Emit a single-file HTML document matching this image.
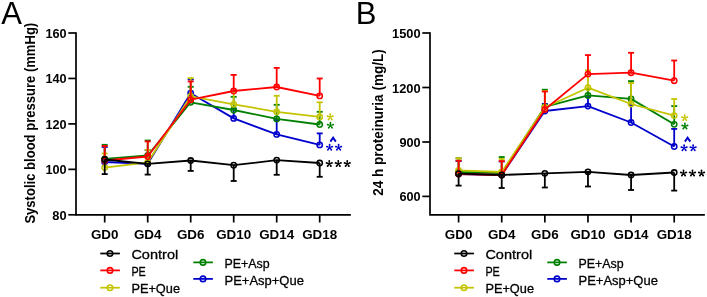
<!DOCTYPE html>
<html><head><meta charset="utf-8"><style>
html,body{margin:0;padding:0;background:#fff;}
body{width:707px;height:297px;overflow:hidden;}
svg{display:block;will-change:transform;}
text{font-family:"Liberation Sans",sans-serif;}
.tk{font-size:12.6px;font-weight:bold;fill:#000;}
.yt{font-size:13.8px;font-weight:bold;fill:#000;}
.lg{font-size:13.2px;fill:#000;stroke:#000;stroke-width:0.3px;}
.let{font-size:31px;fill:#000;}
.st{font-size:16px;font-weight:bold;}
.ca{font-size:13px;font-weight:bold;}
</style></head><body>
<svg width="707" height="297" viewBox="0 0 707 297">
<path d="M76.00,33 L76.00,214.8 L350.00,214.8" fill="none" stroke="#000" stroke-width="1.7" stroke-linecap="square"/>
<line x1="68.30" y1="33.00" x2="76.00" y2="33.00" stroke="#000" stroke-width="1.7"/>
<text x="66.60" y="38.00" text-anchor="end" class="tk" textLength="21.2" lengthAdjust="spacingAndGlyphs">160</text>
<line x1="68.30" y1="78.45" x2="76.00" y2="78.45" stroke="#000" stroke-width="1.7"/>
<text x="66.60" y="83.45" text-anchor="end" class="tk" textLength="21.2" lengthAdjust="spacingAndGlyphs">140</text>
<line x1="68.30" y1="123.90" x2="76.00" y2="123.90" stroke="#000" stroke-width="1.7"/>
<text x="66.60" y="128.90" text-anchor="end" class="tk" textLength="21.2" lengthAdjust="spacingAndGlyphs">120</text>
<line x1="68.30" y1="169.35" x2="76.00" y2="169.35" stroke="#000" stroke-width="1.7"/>
<text x="66.60" y="174.35" text-anchor="end" class="tk" textLength="21.2" lengthAdjust="spacingAndGlyphs">100</text>
<line x1="68.30" y1="214.80" x2="76.00" y2="214.80" stroke="#000" stroke-width="1.7"/>
<text x="66.60" y="219.80" text-anchor="end" class="tk" textLength="14.3" lengthAdjust="spacingAndGlyphs">80</text>
<line x1="104.70" y1="214.8" x2="104.70" y2="222.5" stroke="#000" stroke-width="1.7"/>
<text x="104.70" y="239.2" text-anchor="middle" class="tk" textLength="27.6" lengthAdjust="spacingAndGlyphs">GD0</text>
<line x1="147.70" y1="214.8" x2="147.70" y2="222.5" stroke="#000" stroke-width="1.7"/>
<text x="147.70" y="239.2" text-anchor="middle" class="tk" textLength="27.6" lengthAdjust="spacingAndGlyphs">GD4</text>
<line x1="190.70" y1="214.8" x2="190.70" y2="222.5" stroke="#000" stroke-width="1.7"/>
<text x="190.70" y="239.2" text-anchor="middle" class="tk" textLength="27.6" lengthAdjust="spacingAndGlyphs">GD6</text>
<line x1="233.70" y1="214.8" x2="233.70" y2="222.5" stroke="#000" stroke-width="1.7"/>
<text x="233.70" y="239.2" text-anchor="middle" class="tk" textLength="35.0" lengthAdjust="spacingAndGlyphs">GD10</text>
<line x1="276.70" y1="214.8" x2="276.70" y2="222.5" stroke="#000" stroke-width="1.7"/>
<text x="276.70" y="239.2" text-anchor="middle" class="tk" textLength="35.0" lengthAdjust="spacingAndGlyphs">GD14</text>
<line x1="319.70" y1="214.8" x2="319.70" y2="222.5" stroke="#000" stroke-width="1.7"/>
<text x="319.70" y="239.2" text-anchor="middle" class="tk" textLength="35.0" lengthAdjust="spacingAndGlyphs">GD18</text>
<text transform="translate(35.00,123.20) rotate(-90)" x="0" y="0" text-anchor="middle" class="yt" textLength="200.8" lengthAdjust="spacingAndGlyphs">Systolic blood pressure (mmHg)</text>
<text x="1.20" y="23.5" class="let">A</text>
<line x1="104.70" y1="162.00" x2="104.70" y2="147.00" stroke="#0000CC" stroke-width="1.8"/>
<line x1="101.70" y1="147.00" x2="107.70" y2="147.00" stroke="#0000CC" stroke-width="1.8"/>
<line x1="147.70" y1="163.80" x2="147.70" y2="150.00" stroke="#0000CC" stroke-width="1.8"/>
<line x1="144.70" y1="150.00" x2="150.70" y2="150.00" stroke="#0000CC" stroke-width="1.8"/>
<line x1="190.70" y1="93.20" x2="190.70" y2="79.50" stroke="#0000CC" stroke-width="1.8"/>
<line x1="187.70" y1="79.50" x2="193.70" y2="79.50" stroke="#0000CC" stroke-width="1.8"/>
<line x1="233.70" y1="118.40" x2="233.70" y2="109.00" stroke="#0000CC" stroke-width="1.8"/>
<line x1="230.70" y1="109.00" x2="236.70" y2="109.00" stroke="#0000CC" stroke-width="1.8"/>
<line x1="276.70" y1="134.40" x2="276.70" y2="120.00" stroke="#0000CC" stroke-width="1.8"/>
<line x1="273.70" y1="120.00" x2="279.70" y2="120.00" stroke="#0000CC" stroke-width="1.8"/>
<line x1="319.70" y1="144.90" x2="319.70" y2="133.40" stroke="#0000CC" stroke-width="1.8"/>
<line x1="316.70" y1="133.40" x2="322.70" y2="133.40" stroke="#0000CC" stroke-width="1.8"/>
<path d="M104.70,162.00 L147.70,163.80 L190.70,93.20 L233.70,118.40 L276.70,134.40 L319.70,144.90" fill="none" stroke="#0000CC" stroke-width="1.8" stroke-linejoin="round"/>
<circle cx="104.70" cy="162.00" r="2.65" fill="none" stroke="#0000CC" stroke-width="1.55"/>
<circle cx="147.70" cy="163.80" r="2.65" fill="none" stroke="#0000CC" stroke-width="1.55"/>
<circle cx="190.70" cy="93.20" r="2.65" fill="none" stroke="#0000CC" stroke-width="1.55"/>
<circle cx="233.70" cy="118.40" r="2.65" fill="none" stroke="#0000CC" stroke-width="1.55"/>
<circle cx="276.70" cy="134.40" r="2.65" fill="none" stroke="#0000CC" stroke-width="1.55"/>
<circle cx="319.70" cy="144.90" r="2.65" fill="none" stroke="#0000CC" stroke-width="1.55"/>
<line x1="104.70" y1="158.80" x2="104.70" y2="144.80" stroke="#008000" stroke-width="1.8"/>
<line x1="101.70" y1="144.80" x2="107.70" y2="144.80" stroke="#008000" stroke-width="1.8"/>
<line x1="147.70" y1="155.50" x2="147.70" y2="140.50" stroke="#008000" stroke-width="1.8"/>
<line x1="144.70" y1="140.50" x2="150.70" y2="140.50" stroke="#008000" stroke-width="1.8"/>
<line x1="190.70" y1="102.30" x2="190.70" y2="86.80" stroke="#008000" stroke-width="1.8"/>
<line x1="187.70" y1="86.80" x2="193.70" y2="86.80" stroke="#008000" stroke-width="1.8"/>
<line x1="233.70" y1="110.00" x2="233.70" y2="96.80" stroke="#008000" stroke-width="1.8"/>
<line x1="230.70" y1="96.80" x2="236.70" y2="96.80" stroke="#008000" stroke-width="1.8"/>
<line x1="276.70" y1="118.90" x2="276.70" y2="104.80" stroke="#008000" stroke-width="1.8"/>
<line x1="273.70" y1="104.80" x2="279.70" y2="104.80" stroke="#008000" stroke-width="1.8"/>
<line x1="319.70" y1="124.50" x2="319.70" y2="111.80" stroke="#008000" stroke-width="1.8"/>
<line x1="316.70" y1="111.80" x2="322.70" y2="111.80" stroke="#008000" stroke-width="1.8"/>
<path d="M104.70,158.80 L147.70,155.50 L190.70,102.30 L233.70,110.00 L276.70,118.90 L319.70,124.50" fill="none" stroke="#008000" stroke-width="1.8" stroke-linejoin="round"/>
<circle cx="104.70" cy="158.80" r="2.65" fill="none" stroke="#008000" stroke-width="1.55"/>
<circle cx="147.70" cy="155.50" r="2.65" fill="none" stroke="#008000" stroke-width="1.55"/>
<circle cx="190.70" cy="102.30" r="2.65" fill="none" stroke="#008000" stroke-width="1.55"/>
<circle cx="233.70" cy="110.00" r="2.65" fill="none" stroke="#008000" stroke-width="1.55"/>
<circle cx="276.70" cy="118.90" r="2.65" fill="none" stroke="#008000" stroke-width="1.55"/>
<circle cx="319.70" cy="124.50" r="2.65" fill="none" stroke="#008000" stroke-width="1.55"/>
<line x1="104.70" y1="167.60" x2="104.70" y2="153.50" stroke="#C4C400" stroke-width="1.8"/>
<line x1="101.70" y1="153.50" x2="107.70" y2="153.50" stroke="#C4C400" stroke-width="1.8"/>
<line x1="147.70" y1="162.30" x2="147.70" y2="149.90" stroke="#C4C400" stroke-width="1.8"/>
<line x1="144.70" y1="149.90" x2="150.70" y2="149.90" stroke="#C4C400" stroke-width="1.8"/>
<line x1="190.70" y1="96.30" x2="190.70" y2="78.10" stroke="#C4C400" stroke-width="1.8"/>
<line x1="187.70" y1="78.10" x2="193.70" y2="78.10" stroke="#C4C400" stroke-width="1.8"/>
<line x1="233.70" y1="104.30" x2="233.70" y2="91.50" stroke="#C4C400" stroke-width="1.8"/>
<line x1="230.70" y1="91.50" x2="236.70" y2="91.50" stroke="#C4C400" stroke-width="1.8"/>
<line x1="276.70" y1="111.80" x2="276.70" y2="95.80" stroke="#C4C400" stroke-width="1.8"/>
<line x1="273.70" y1="95.80" x2="279.70" y2="95.80" stroke="#C4C400" stroke-width="1.8"/>
<line x1="319.70" y1="116.90" x2="319.70" y2="102.30" stroke="#C4C400" stroke-width="1.8"/>
<line x1="316.70" y1="102.30" x2="322.70" y2="102.30" stroke="#C4C400" stroke-width="1.8"/>
<path d="M104.70,167.60 L147.70,162.30 L190.70,96.30 L233.70,104.30 L276.70,111.80 L319.70,116.90" fill="none" stroke="#C4C400" stroke-width="1.8" stroke-linejoin="round"/>
<circle cx="104.70" cy="167.60" r="2.65" fill="none" stroke="#C4C400" stroke-width="1.55"/>
<circle cx="147.70" cy="162.30" r="2.65" fill="none" stroke="#C4C400" stroke-width="1.55"/>
<circle cx="190.70" cy="96.30" r="2.65" fill="none" stroke="#C4C400" stroke-width="1.55"/>
<circle cx="233.70" cy="104.30" r="2.65" fill="none" stroke="#C4C400" stroke-width="1.55"/>
<circle cx="276.70" cy="111.80" r="2.65" fill="none" stroke="#C4C400" stroke-width="1.55"/>
<circle cx="319.70" cy="116.90" r="2.65" fill="none" stroke="#C4C400" stroke-width="1.55"/>
<line x1="104.70" y1="160.50" x2="104.70" y2="145.90" stroke="#FF0000" stroke-width="1.8"/>
<line x1="101.70" y1="145.90" x2="107.70" y2="145.90" stroke="#FF0000" stroke-width="1.8"/>
<line x1="147.70" y1="156.50" x2="147.70" y2="141.40" stroke="#FF0000" stroke-width="1.8"/>
<line x1="144.70" y1="141.40" x2="150.70" y2="141.40" stroke="#FF0000" stroke-width="1.8"/>
<line x1="190.70" y1="99.70" x2="190.70" y2="81.50" stroke="#FF0000" stroke-width="1.8"/>
<line x1="187.70" y1="81.50" x2="193.70" y2="81.50" stroke="#FF0000" stroke-width="1.8"/>
<line x1="233.70" y1="91.00" x2="233.70" y2="74.90" stroke="#FF0000" stroke-width="1.8"/>
<line x1="230.70" y1="74.90" x2="236.70" y2="74.90" stroke="#FF0000" stroke-width="1.8"/>
<line x1="276.70" y1="87.00" x2="276.70" y2="67.90" stroke="#FF0000" stroke-width="1.8"/>
<line x1="273.70" y1="67.90" x2="279.70" y2="67.90" stroke="#FF0000" stroke-width="1.8"/>
<line x1="319.70" y1="95.90" x2="319.70" y2="78.50" stroke="#FF0000" stroke-width="1.8"/>
<line x1="316.70" y1="78.50" x2="322.70" y2="78.50" stroke="#FF0000" stroke-width="1.8"/>
<path d="M104.70,160.50 L147.70,156.50 L190.70,99.70 L233.70,91.00 L276.70,87.00 L319.70,95.90" fill="none" stroke="#FF0000" stroke-width="1.8" stroke-linejoin="round"/>
<circle cx="104.70" cy="160.50" r="2.65" fill="none" stroke="#FF0000" stroke-width="1.55"/>
<circle cx="147.70" cy="156.50" r="2.65" fill="none" stroke="#FF0000" stroke-width="1.55"/>
<circle cx="190.70" cy="99.70" r="2.65" fill="none" stroke="#FF0000" stroke-width="1.55"/>
<circle cx="233.70" cy="91.00" r="2.65" fill="none" stroke="#FF0000" stroke-width="1.55"/>
<circle cx="276.70" cy="87.00" r="2.65" fill="none" stroke="#FF0000" stroke-width="1.55"/>
<circle cx="319.70" cy="95.90" r="2.65" fill="none" stroke="#FF0000" stroke-width="1.55"/>
<line x1="104.70" y1="159.50" x2="104.70" y2="174.10" stroke="#000000" stroke-width="1.8"/>
<line x1="101.70" y1="174.10" x2="107.70" y2="174.10" stroke="#000000" stroke-width="1.8"/>
<line x1="147.70" y1="163.80" x2="147.70" y2="174.60" stroke="#000000" stroke-width="1.8"/>
<line x1="144.70" y1="174.60" x2="150.70" y2="174.60" stroke="#000000" stroke-width="1.8"/>
<line x1="190.70" y1="160.50" x2="190.70" y2="170.90" stroke="#000000" stroke-width="1.8"/>
<line x1="187.70" y1="170.90" x2="193.70" y2="170.90" stroke="#000000" stroke-width="1.8"/>
<line x1="233.70" y1="165.20" x2="233.70" y2="181.00" stroke="#000000" stroke-width="1.8"/>
<line x1="230.70" y1="181.00" x2="236.70" y2="181.00" stroke="#000000" stroke-width="1.8"/>
<line x1="276.70" y1="160.10" x2="276.70" y2="174.80" stroke="#000000" stroke-width="1.8"/>
<line x1="273.70" y1="174.80" x2="279.70" y2="174.80" stroke="#000000" stroke-width="1.8"/>
<line x1="319.70" y1="163.00" x2="319.70" y2="176.80" stroke="#000000" stroke-width="1.8"/>
<line x1="316.70" y1="176.80" x2="322.70" y2="176.80" stroke="#000000" stroke-width="1.8"/>
<path d="M104.70,159.50 L147.70,163.80 L190.70,160.50 L233.70,165.20 L276.70,160.10 L319.70,163.00" fill="none" stroke="#000000" stroke-width="1.8" stroke-linejoin="round"/>
<circle cx="104.70" cy="159.50" r="2.65" fill="none" stroke="#000000" stroke-width="1.55"/>
<circle cx="147.70" cy="163.80" r="2.65" fill="none" stroke="#000000" stroke-width="1.55"/>
<circle cx="190.70" cy="160.50" r="2.65" fill="none" stroke="#000000" stroke-width="1.55"/>
<circle cx="233.70" cy="165.20" r="2.65" fill="none" stroke="#000000" stroke-width="1.55"/>
<circle cx="276.70" cy="160.10" r="2.65" fill="none" stroke="#000000" stroke-width="1.55"/>
<circle cx="319.70" cy="163.00" r="2.65" fill="none" stroke="#000000" stroke-width="1.55"/>
<path d="M330.58,117.10 L331.12,114.23 A0.92,0.92 0 0 0 329.28,114.23 L329.82,117.10 Z M330.32,117.46 L333.22,117.09 A0.92,0.92 0 0 0 332.65,115.34 L330.08,116.74 Z M329.89,117.32 L331.14,119.96 A0.92,0.92 0 0 0 332.63,118.88 L330.51,116.88 Z M329.89,116.88 L327.77,118.88 A0.92,0.92 0 0 0 329.26,119.96 L330.51,117.32 Z M330.32,116.74 L327.75,115.34 A0.92,0.92 0 0 0 327.18,117.09 L330.08,117.46 Z" fill="#C4C400"/>
<path d="M330.78,125.50 L331.32,122.63 A0.92,0.92 0 0 0 329.48,122.63 L330.02,125.50 Z M330.52,125.86 L333.42,125.49 A0.92,0.92 0 0 0 332.85,123.74 L330.28,125.14 Z M330.09,125.72 L331.34,128.36 A0.92,0.92 0 0 0 332.83,127.28 L330.71,125.28 Z M330.09,125.28 L327.97,127.28 A0.92,0.92 0 0 0 329.46,128.36 L330.71,125.72 Z M330.52,125.14 L327.95,123.74 A0.92,0.92 0 0 0 327.38,125.49 L330.28,125.86 Z" fill="#008000"/>
<path d="M330.40,141.60 L333.10,137.60 L335.80,141.60" stroke="#0000CC" stroke-width="1.9" fill="none" stroke-linejoin="miter"/>
<path d="M329.98,147.50 L330.52,144.63 A0.92,0.92 0 0 0 328.68,144.63 L329.22,147.50 Z M329.72,147.86 L332.62,147.49 A0.92,0.92 0 0 0 332.05,145.74 L329.48,147.14 Z M329.29,147.72 L330.54,150.36 A0.92,0.92 0 0 0 332.03,149.28 L329.91,147.28 Z M329.29,147.28 L327.17,149.28 A0.92,0.92 0 0 0 328.66,150.36 L329.91,147.72 Z M329.72,147.14 L327.15,145.74 A0.92,0.92 0 0 0 326.58,147.49 L329.48,147.86 Z" fill="#0000CC"/>
<path d="M338.98,147.50 L339.52,144.63 A0.92,0.92 0 0 0 337.68,144.63 L338.22,147.50 Z M338.72,147.86 L341.62,147.49 A0.92,0.92 0 0 0 341.05,145.74 L338.48,147.14 Z M338.29,147.72 L339.54,150.36 A0.92,0.92 0 0 0 341.03,149.28 L338.91,147.28 Z M338.29,147.28 L336.17,149.28 A0.92,0.92 0 0 0 337.66,150.36 L338.91,147.72 Z M338.72,147.14 L336.15,145.74 A0.92,0.92 0 0 0 335.58,147.49 L338.48,147.86 Z" fill="#0000CC"/>
<path d="M329.63,163.80 L330.17,160.93 A0.92,0.92 0 0 0 328.33,160.93 L328.87,163.80 Z M329.37,164.16 L332.27,163.79 A0.92,0.92 0 0 0 331.70,162.04 L329.13,163.44 Z M328.94,164.02 L330.19,166.66 A0.92,0.92 0 0 0 331.68,165.58 L329.56,163.58 Z M328.94,163.58 L326.82,165.58 A0.92,0.92 0 0 0 328.31,166.66 L329.56,164.02 Z M329.37,163.44 L326.80,162.04 A0.92,0.92 0 0 0 326.23,163.79 L329.13,164.16 Z" fill="#000"/>
<path d="M338.63,163.80 L339.17,160.93 A0.92,0.92 0 0 0 337.33,160.93 L337.87,163.80 Z M338.37,164.16 L341.27,163.79 A0.92,0.92 0 0 0 340.70,162.04 L338.13,163.44 Z M337.94,164.02 L339.19,166.66 A0.92,0.92 0 0 0 340.68,165.58 L338.56,163.58 Z M337.94,163.58 L335.82,165.58 A0.92,0.92 0 0 0 337.31,166.66 L338.56,164.02 Z M338.37,163.44 L335.80,162.04 A0.92,0.92 0 0 0 335.23,163.79 L338.13,164.16 Z" fill="#000"/>
<path d="M347.63,163.80 L348.17,160.93 A0.92,0.92 0 0 0 346.33,160.93 L346.87,163.80 Z M347.37,164.16 L350.27,163.79 A0.92,0.92 0 0 0 349.70,162.04 L347.13,163.44 Z M346.94,164.02 L348.19,166.66 A0.92,0.92 0 0 0 349.68,165.58 L347.56,163.58 Z M346.94,163.58 L344.82,165.58 A0.92,0.92 0 0 0 346.31,166.66 L347.56,164.02 Z M347.37,163.44 L344.80,162.04 A0.92,0.92 0 0 0 344.23,163.79 L347.13,164.16 Z" fill="#000"/>
<line x1="100.30" y1="253.50" x2="119.90" y2="253.50" stroke="#000000" stroke-width="1.75"/>
<circle cx="110.00" cy="253.50" r="2.75" fill="none" stroke="#000000" stroke-width="1.6"/>
<text x="131.40" y="259.10" class="lg" textLength="46.8" lengthAdjust="spacingAndGlyphs">Control</text>
<line x1="100.30" y1="270.40" x2="119.90" y2="270.40" stroke="#FF0000" stroke-width="1.75"/>
<circle cx="110.00" cy="270.40" r="2.75" fill="none" stroke="#FF0000" stroke-width="1.6"/>
<text x="131.40" y="276.00" class="lg" textLength="14.4" lengthAdjust="spacingAndGlyphs">PE</text>
<line x1="100.30" y1="287.70" x2="119.90" y2="287.70" stroke="#C4C400" stroke-width="1.75"/>
<circle cx="110.00" cy="287.70" r="2.75" fill="none" stroke="#C4C400" stroke-width="1.6"/>
<text x="131.40" y="293.30" class="lg" textLength="48.6" lengthAdjust="spacingAndGlyphs">PE+Que</text>
<line x1="193.30" y1="262.40" x2="212.90" y2="262.40" stroke="#008000" stroke-width="1.75"/>
<circle cx="203.00" cy="262.40" r="2.75" fill="none" stroke="#008000" stroke-width="1.6"/>
<text x="224.50" y="268.00" class="lg" textLength="45.1" lengthAdjust="spacingAndGlyphs">PE+Asp</text>
<line x1="193.30" y1="278.90" x2="212.90" y2="278.90" stroke="#0000CC" stroke-width="1.75"/>
<circle cx="203.00" cy="278.90" r="2.75" fill="none" stroke="#0000CC" stroke-width="1.6"/>
<text x="224.50" y="284.50" class="lg" textLength="79.4" lengthAdjust="spacingAndGlyphs">PE+Asp+Que</text>
<path d="M430.00,33 L430.00,214.8 L704.00,214.8" fill="none" stroke="#000" stroke-width="1.7" stroke-linecap="square"/>
<line x1="422.30" y1="33.00" x2="430.00" y2="33.00" stroke="#000" stroke-width="1.7"/>
<text x="420.60" y="38.00" text-anchor="end" class="tk" textLength="28.6" lengthAdjust="spacingAndGlyphs">1500</text>
<line x1="422.30" y1="87.50" x2="430.00" y2="87.50" stroke="#000" stroke-width="1.7"/>
<text x="420.60" y="92.50" text-anchor="end" class="tk" textLength="28.6" lengthAdjust="spacingAndGlyphs">1200</text>
<line x1="422.30" y1="142.00" x2="430.00" y2="142.00" stroke="#000" stroke-width="1.7"/>
<text x="420.60" y="147.00" text-anchor="end" class="tk" textLength="21.2" lengthAdjust="spacingAndGlyphs">900</text>
<line x1="422.30" y1="196.40" x2="430.00" y2="196.40" stroke="#000" stroke-width="1.7"/>
<text x="420.60" y="201.40" text-anchor="end" class="tk" textLength="21.2" lengthAdjust="spacingAndGlyphs">600</text>
<line x1="458.60" y1="214.8" x2="458.60" y2="222.5" stroke="#000" stroke-width="1.7"/>
<text x="458.60" y="239.2" text-anchor="middle" class="tk" textLength="27.6" lengthAdjust="spacingAndGlyphs">GD0</text>
<line x1="501.72" y1="214.8" x2="501.72" y2="222.5" stroke="#000" stroke-width="1.7"/>
<text x="501.72" y="239.2" text-anchor="middle" class="tk" textLength="27.6" lengthAdjust="spacingAndGlyphs">GD4</text>
<line x1="544.84" y1="214.8" x2="544.84" y2="222.5" stroke="#000" stroke-width="1.7"/>
<text x="544.84" y="239.2" text-anchor="middle" class="tk" textLength="27.6" lengthAdjust="spacingAndGlyphs">GD6</text>
<line x1="587.96" y1="214.8" x2="587.96" y2="222.5" stroke="#000" stroke-width="1.7"/>
<text x="587.96" y="239.2" text-anchor="middle" class="tk" textLength="35.0" lengthAdjust="spacingAndGlyphs">GD10</text>
<line x1="631.08" y1="214.8" x2="631.08" y2="222.5" stroke="#000" stroke-width="1.7"/>
<text x="631.08" y="239.2" text-anchor="middle" class="tk" textLength="35.0" lengthAdjust="spacingAndGlyphs">GD14</text>
<line x1="674.20" y1="214.8" x2="674.20" y2="222.5" stroke="#000" stroke-width="1.7"/>
<text x="674.20" y="239.2" text-anchor="middle" class="tk" textLength="35.0" lengthAdjust="spacingAndGlyphs">GD18</text>
<text transform="translate(382.60,122.55) rotate(-90)" x="0" y="0" text-anchor="middle" class="yt" textLength="146.5" lengthAdjust="spacingAndGlyphs">24 h proteinuria (mg/L)</text>
<text x="355.80" y="23.5" class="let">B</text>
<line x1="458.60" y1="174.00" x2="458.60" y2="161.00" stroke="#0000CC" stroke-width="1.8"/>
<line x1="455.60" y1="161.00" x2="461.60" y2="161.00" stroke="#0000CC" stroke-width="1.8"/>
<line x1="501.72" y1="175.00" x2="501.72" y2="161.50" stroke="#0000CC" stroke-width="1.8"/>
<line x1="498.72" y1="161.50" x2="504.72" y2="161.50" stroke="#0000CC" stroke-width="1.8"/>
<line x1="544.84" y1="111.00" x2="544.84" y2="104.00" stroke="#0000CC" stroke-width="1.8"/>
<line x1="541.84" y1="104.00" x2="547.84" y2="104.00" stroke="#0000CC" stroke-width="1.8"/>
<line x1="587.96" y1="106.10" x2="587.96" y2="97.00" stroke="#0000CC" stroke-width="1.8"/>
<line x1="584.96" y1="97.00" x2="590.96" y2="97.00" stroke="#0000CC" stroke-width="1.8"/>
<line x1="631.08" y1="122.50" x2="631.08" y2="105.00" stroke="#0000CC" stroke-width="1.8"/>
<line x1="628.08" y1="105.00" x2="634.08" y2="105.00" stroke="#0000CC" stroke-width="1.8"/>
<line x1="674.20" y1="146.50" x2="674.20" y2="128.90" stroke="#0000CC" stroke-width="1.8"/>
<line x1="671.20" y1="128.90" x2="677.20" y2="128.90" stroke="#0000CC" stroke-width="1.8"/>
<path d="M458.60,174.00 L501.72,175.00 L544.84,111.00 L587.96,106.10 L631.08,122.50 L674.20,146.50" fill="none" stroke="#0000CC" stroke-width="1.8" stroke-linejoin="round"/>
<circle cx="458.60" cy="174.00" r="2.65" fill="none" stroke="#0000CC" stroke-width="1.55"/>
<circle cx="501.72" cy="175.00" r="2.65" fill="none" stroke="#0000CC" stroke-width="1.55"/>
<circle cx="544.84" cy="111.00" r="2.65" fill="none" stroke="#0000CC" stroke-width="1.55"/>
<circle cx="587.96" cy="106.10" r="2.65" fill="none" stroke="#0000CC" stroke-width="1.55"/>
<circle cx="631.08" cy="122.50" r="2.65" fill="none" stroke="#0000CC" stroke-width="1.55"/>
<circle cx="674.20" cy="146.50" r="2.65" fill="none" stroke="#0000CC" stroke-width="1.55"/>
<line x1="458.60" y1="172.00" x2="458.60" y2="158.30" stroke="#008000" stroke-width="1.8"/>
<line x1="455.60" y1="158.30" x2="461.60" y2="158.30" stroke="#008000" stroke-width="1.8"/>
<line x1="501.72" y1="173.00" x2="501.72" y2="157.00" stroke="#008000" stroke-width="1.8"/>
<line x1="498.72" y1="157.00" x2="504.72" y2="157.00" stroke="#008000" stroke-width="1.8"/>
<line x1="544.84" y1="106.90" x2="544.84" y2="89.70" stroke="#008000" stroke-width="1.8"/>
<line x1="541.84" y1="89.70" x2="547.84" y2="89.70" stroke="#008000" stroke-width="1.8"/>
<line x1="587.96" y1="95.40" x2="587.96" y2="89.00" stroke="#008000" stroke-width="1.8"/>
<line x1="584.96" y1="89.00" x2="590.96" y2="89.00" stroke="#008000" stroke-width="1.8"/>
<line x1="631.08" y1="98.90" x2="631.08" y2="81.10" stroke="#008000" stroke-width="1.8"/>
<line x1="628.08" y1="81.10" x2="634.08" y2="81.10" stroke="#008000" stroke-width="1.8"/>
<line x1="674.20" y1="124.30" x2="674.20" y2="106.10" stroke="#008000" stroke-width="1.8"/>
<line x1="671.20" y1="106.10" x2="677.20" y2="106.10" stroke="#008000" stroke-width="1.8"/>
<path d="M458.60,172.00 L501.72,173.00 L544.84,106.90 L587.96,95.40 L631.08,98.90 L674.20,124.30" fill="none" stroke="#008000" stroke-width="1.8" stroke-linejoin="round"/>
<circle cx="458.60" cy="172.00" r="2.65" fill="none" stroke="#008000" stroke-width="1.55"/>
<circle cx="501.72" cy="173.00" r="2.65" fill="none" stroke="#008000" stroke-width="1.55"/>
<circle cx="544.84" cy="106.90" r="2.65" fill="none" stroke="#008000" stroke-width="1.55"/>
<circle cx="587.96" cy="95.40" r="2.65" fill="none" stroke="#008000" stroke-width="1.55"/>
<circle cx="631.08" cy="98.90" r="2.65" fill="none" stroke="#008000" stroke-width="1.55"/>
<circle cx="674.20" cy="124.30" r="2.65" fill="none" stroke="#008000" stroke-width="1.55"/>
<line x1="458.60" y1="170.40" x2="458.60" y2="158.30" stroke="#C4C400" stroke-width="1.8"/>
<line x1="455.60" y1="158.30" x2="461.60" y2="158.30" stroke="#C4C400" stroke-width="1.8"/>
<line x1="501.72" y1="172.00" x2="501.72" y2="158.90" stroke="#C4C400" stroke-width="1.8"/>
<line x1="498.72" y1="158.90" x2="504.72" y2="158.90" stroke="#C4C400" stroke-width="1.8"/>
<line x1="544.84" y1="107.50" x2="544.84" y2="90.90" stroke="#C4C400" stroke-width="1.8"/>
<line x1="541.84" y1="90.90" x2="547.84" y2="90.90" stroke="#C4C400" stroke-width="1.8"/>
<line x1="587.96" y1="87.70" x2="587.96" y2="70.30" stroke="#C4C400" stroke-width="1.8"/>
<line x1="584.96" y1="70.30" x2="590.96" y2="70.30" stroke="#C4C400" stroke-width="1.8"/>
<line x1="631.08" y1="104.00" x2="631.08" y2="83.10" stroke="#C4C400" stroke-width="1.8"/>
<line x1="628.08" y1="83.10" x2="634.08" y2="83.10" stroke="#C4C400" stroke-width="1.8"/>
<line x1="674.20" y1="115.60" x2="674.20" y2="99.00" stroke="#C4C400" stroke-width="1.8"/>
<line x1="671.20" y1="99.00" x2="677.20" y2="99.00" stroke="#C4C400" stroke-width="1.8"/>
<path d="M458.60,170.40 L501.72,172.00 L544.84,107.50 L587.96,87.70 L631.08,104.00 L674.20,115.60" fill="none" stroke="#C4C400" stroke-width="1.8" stroke-linejoin="round"/>
<circle cx="458.60" cy="170.40" r="2.65" fill="none" stroke="#C4C400" stroke-width="1.55"/>
<circle cx="501.72" cy="172.00" r="2.65" fill="none" stroke="#C4C400" stroke-width="1.55"/>
<circle cx="544.84" cy="107.50" r="2.65" fill="none" stroke="#C4C400" stroke-width="1.55"/>
<circle cx="587.96" cy="87.70" r="2.65" fill="none" stroke="#C4C400" stroke-width="1.55"/>
<circle cx="631.08" cy="104.00" r="2.65" fill="none" stroke="#C4C400" stroke-width="1.55"/>
<circle cx="674.20" cy="115.60" r="2.65" fill="none" stroke="#C4C400" stroke-width="1.55"/>
<line x1="458.60" y1="174.00" x2="458.60" y2="160.70" stroke="#FF0000" stroke-width="1.8"/>
<line x1="455.60" y1="160.70" x2="461.60" y2="160.70" stroke="#FF0000" stroke-width="1.8"/>
<line x1="501.72" y1="175.00" x2="501.72" y2="161.10" stroke="#FF0000" stroke-width="1.8"/>
<line x1="498.72" y1="161.10" x2="504.72" y2="161.10" stroke="#FF0000" stroke-width="1.8"/>
<line x1="544.84" y1="109.50" x2="544.84" y2="91.50" stroke="#FF0000" stroke-width="1.8"/>
<line x1="541.84" y1="91.50" x2="547.84" y2="91.50" stroke="#FF0000" stroke-width="1.8"/>
<line x1="587.96" y1="74.10" x2="587.96" y2="55.10" stroke="#FF0000" stroke-width="1.8"/>
<line x1="584.96" y1="55.10" x2="590.96" y2="55.10" stroke="#FF0000" stroke-width="1.8"/>
<line x1="631.08" y1="72.70" x2="631.08" y2="52.80" stroke="#FF0000" stroke-width="1.8"/>
<line x1="628.08" y1="52.80" x2="634.08" y2="52.80" stroke="#FF0000" stroke-width="1.8"/>
<line x1="674.20" y1="80.70" x2="674.20" y2="60.50" stroke="#FF0000" stroke-width="1.8"/>
<line x1="671.20" y1="60.50" x2="677.20" y2="60.50" stroke="#FF0000" stroke-width="1.8"/>
<path d="M458.60,174.00 L501.72,175.00 L544.84,109.50 L587.96,74.10 L631.08,72.70 L674.20,80.70" fill="none" stroke="#FF0000" stroke-width="1.8" stroke-linejoin="round"/>
<circle cx="458.60" cy="174.00" r="2.65" fill="none" stroke="#FF0000" stroke-width="1.55"/>
<circle cx="501.72" cy="175.00" r="2.65" fill="none" stroke="#FF0000" stroke-width="1.55"/>
<circle cx="544.84" cy="109.50" r="2.65" fill="none" stroke="#FF0000" stroke-width="1.55"/>
<circle cx="587.96" cy="74.10" r="2.65" fill="none" stroke="#FF0000" stroke-width="1.55"/>
<circle cx="631.08" cy="72.70" r="2.65" fill="none" stroke="#FF0000" stroke-width="1.55"/>
<circle cx="674.20" cy="80.70" r="2.65" fill="none" stroke="#FF0000" stroke-width="1.55"/>
<line x1="458.60" y1="173.70" x2="458.60" y2="185.60" stroke="#000000" stroke-width="1.8"/>
<line x1="455.60" y1="185.60" x2="461.60" y2="185.60" stroke="#000000" stroke-width="1.8"/>
<line x1="501.72" y1="175.00" x2="501.72" y2="188.00" stroke="#000000" stroke-width="1.8"/>
<line x1="498.72" y1="188.00" x2="504.72" y2="188.00" stroke="#000000" stroke-width="1.8"/>
<line x1="544.84" y1="173.30" x2="544.84" y2="187.50" stroke="#000000" stroke-width="1.8"/>
<line x1="541.84" y1="187.50" x2="547.84" y2="187.50" stroke="#000000" stroke-width="1.8"/>
<line x1="587.96" y1="171.80" x2="587.96" y2="186.50" stroke="#000000" stroke-width="1.8"/>
<line x1="584.96" y1="186.50" x2="590.96" y2="186.50" stroke="#000000" stroke-width="1.8"/>
<line x1="631.08" y1="175.00" x2="631.08" y2="190.00" stroke="#000000" stroke-width="1.8"/>
<line x1="628.08" y1="190.00" x2="634.08" y2="190.00" stroke="#000000" stroke-width="1.8"/>
<line x1="674.20" y1="172.50" x2="674.20" y2="190.60" stroke="#000000" stroke-width="1.8"/>
<line x1="671.20" y1="190.60" x2="677.20" y2="190.60" stroke="#000000" stroke-width="1.8"/>
<path d="M458.60,173.70 L501.72,175.00 L544.84,173.30 L587.96,171.80 L631.08,175.00 L674.20,172.50" fill="none" stroke="#000000" stroke-width="1.8" stroke-linejoin="round"/>
<circle cx="458.60" cy="173.70" r="2.65" fill="none" stroke="#000000" stroke-width="1.55"/>
<circle cx="501.72" cy="175.00" r="2.65" fill="none" stroke="#000000" stroke-width="1.55"/>
<circle cx="544.84" cy="173.30" r="2.65" fill="none" stroke="#000000" stroke-width="1.55"/>
<circle cx="587.96" cy="171.80" r="2.65" fill="none" stroke="#000000" stroke-width="1.55"/>
<circle cx="631.08" cy="175.00" r="2.65" fill="none" stroke="#000000" stroke-width="1.55"/>
<circle cx="674.20" cy="172.50" r="2.65" fill="none" stroke="#000000" stroke-width="1.55"/>
<path d="M685.08,118.00 L685.62,115.13 A0.92,0.92 0 0 0 683.78,115.13 L684.32,118.00 Z M684.82,118.36 L687.72,117.99 A0.92,0.92 0 0 0 687.15,116.24 L684.58,117.64 Z M684.39,118.22 L685.64,120.86 A0.92,0.92 0 0 0 687.13,119.78 L685.01,117.78 Z M684.39,117.78 L682.27,119.78 A0.92,0.92 0 0 0 683.76,120.86 L685.01,118.22 Z M684.82,117.64 L682.25,116.24 A0.92,0.92 0 0 0 681.68,117.99 L684.58,118.36 Z" fill="#C4C400"/>
<path d="M685.28,126.30 L685.82,123.43 A0.92,0.92 0 0 0 683.98,123.43 L684.52,126.30 Z M685.02,126.66 L687.92,126.29 A0.92,0.92 0 0 0 687.35,124.54 L684.78,125.94 Z M684.59,126.52 L685.84,129.16 A0.92,0.92 0 0 0 687.33,128.08 L685.21,126.08 Z M684.59,126.08 L682.47,128.08 A0.92,0.92 0 0 0 683.96,129.16 L685.21,126.52 Z M685.02,125.94 L682.45,124.54 A0.92,0.92 0 0 0 681.88,126.29 L684.78,126.66 Z" fill="#008000"/>
<path d="M684.90,141.60 L687.60,137.60 L690.30,141.60" stroke="#0000CC" stroke-width="1.9" fill="none" stroke-linejoin="miter"/>
<path d="M684.48,148.00 L685.02,145.13 A0.92,0.92 0 0 0 683.18,145.13 L683.72,148.00 Z M684.22,148.36 L687.12,147.99 A0.92,0.92 0 0 0 686.55,146.24 L683.98,147.64 Z M683.79,148.22 L685.04,150.86 A0.92,0.92 0 0 0 686.53,149.78 L684.41,147.78 Z M683.79,147.78 L681.67,149.78 A0.92,0.92 0 0 0 683.16,150.86 L684.41,148.22 Z M684.22,147.64 L681.65,146.24 A0.92,0.92 0 0 0 681.08,147.99 L683.98,148.36 Z" fill="#0000CC"/>
<path d="M693.48,148.00 L694.02,145.13 A0.92,0.92 0 0 0 692.18,145.13 L692.72,148.00 Z M693.22,148.36 L696.12,147.99 A0.92,0.92 0 0 0 695.55,146.24 L692.98,147.64 Z M692.79,148.22 L694.04,150.86 A0.92,0.92 0 0 0 695.53,149.78 L693.41,147.78 Z M692.79,147.78 L690.67,149.78 A0.92,0.92 0 0 0 692.16,150.86 L693.41,148.22 Z M693.22,147.64 L690.65,146.24 A0.92,0.92 0 0 0 690.08,147.99 L692.98,148.36 Z" fill="#0000CC"/>
<path d="M683.88,173.30 L684.42,170.43 A0.92,0.92 0 0 0 682.58,170.43 L683.12,173.30 Z M683.62,173.66 L686.52,173.29 A0.92,0.92 0 0 0 685.95,171.54 L683.38,172.94 Z M683.19,173.52 L684.44,176.16 A0.92,0.92 0 0 0 685.93,175.08 L683.81,173.08 Z M683.19,173.08 L681.07,175.08 A0.92,0.92 0 0 0 682.56,176.16 L683.81,173.52 Z M683.62,172.94 L681.05,171.54 A0.92,0.92 0 0 0 680.48,173.29 L683.38,173.66 Z" fill="#000"/>
<path d="M692.88,173.30 L693.42,170.43 A0.92,0.92 0 0 0 691.58,170.43 L692.12,173.30 Z M692.62,173.66 L695.52,173.29 A0.92,0.92 0 0 0 694.95,171.54 L692.38,172.94 Z M692.19,173.52 L693.44,176.16 A0.92,0.92 0 0 0 694.93,175.08 L692.81,173.08 Z M692.19,173.08 L690.07,175.08 A0.92,0.92 0 0 0 691.56,176.16 L692.81,173.52 Z M692.62,172.94 L690.05,171.54 A0.92,0.92 0 0 0 689.48,173.29 L692.38,173.66 Z" fill="#000"/>
<path d="M701.88,173.30 L702.42,170.43 A0.92,0.92 0 0 0 700.58,170.43 L701.12,173.30 Z M701.62,173.66 L704.52,173.29 A0.92,0.92 0 0 0 703.95,171.54 L701.38,172.94 Z M701.19,173.52 L702.44,176.16 A0.92,0.92 0 0 0 703.93,175.08 L701.81,173.08 Z M701.19,173.08 L699.07,175.08 A0.92,0.92 0 0 0 700.56,176.16 L701.81,173.52 Z M701.62,172.94 L699.05,171.54 A0.92,0.92 0 0 0 698.48,173.29 L701.38,173.66 Z" fill="#000"/>
<line x1="454.30" y1="253.50" x2="473.90" y2="253.50" stroke="#000000" stroke-width="1.75"/>
<circle cx="464.00" cy="253.50" r="2.75" fill="none" stroke="#000000" stroke-width="1.6"/>
<text x="485.40" y="259.10" class="lg" textLength="46.8" lengthAdjust="spacingAndGlyphs">Control</text>
<line x1="454.30" y1="270.40" x2="473.90" y2="270.40" stroke="#FF0000" stroke-width="1.75"/>
<circle cx="464.00" cy="270.40" r="2.75" fill="none" stroke="#FF0000" stroke-width="1.6"/>
<text x="485.40" y="276.00" class="lg" textLength="14.4" lengthAdjust="spacingAndGlyphs">PE</text>
<line x1="454.30" y1="287.70" x2="473.90" y2="287.70" stroke="#C4C400" stroke-width="1.75"/>
<circle cx="464.00" cy="287.70" r="2.75" fill="none" stroke="#C4C400" stroke-width="1.6"/>
<text x="485.40" y="293.30" class="lg" textLength="48.6" lengthAdjust="spacingAndGlyphs">PE+Que</text>
<line x1="547.30" y1="262.40" x2="566.90" y2="262.40" stroke="#008000" stroke-width="1.75"/>
<circle cx="557.00" cy="262.40" r="2.75" fill="none" stroke="#008000" stroke-width="1.6"/>
<text x="578.50" y="268.00" class="lg" textLength="45.1" lengthAdjust="spacingAndGlyphs">PE+Asp</text>
<line x1="547.30" y1="278.90" x2="566.90" y2="278.90" stroke="#0000CC" stroke-width="1.75"/>
<circle cx="557.00" cy="278.90" r="2.75" fill="none" stroke="#0000CC" stroke-width="1.6"/>
<text x="578.50" y="284.50" class="lg" textLength="79.4" lengthAdjust="spacingAndGlyphs">PE+Asp+Que</text>
</svg>
</body></html>
